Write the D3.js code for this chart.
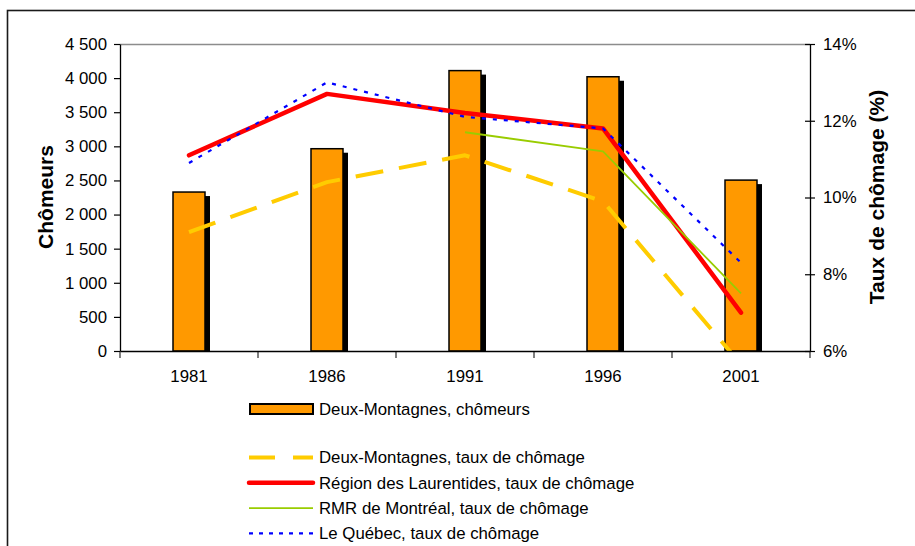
<!DOCTYPE html>
<html>
<head>
<meta charset="utf-8">
<script src="https://cdn.jsdelivr.net/npm/d3@7"></script>
<style>
  body { margin: 0; background: white; }
  svg { display: block; font-family: "Liberation Sans", Arial, sans-serif; }
</style>
</head>
<body>
<div id="chart"></div>
<script>
const years = ["1981", "1986", "1991", "1996", "2001"];
const chomeurs = [2330, 2965, 4110, 4020, 2505];
const tauxDeuxMontagnes = [9.1, 10.4, 11.1, 9.9, 5.65];
const tauxLaurentides = [11.1, 12.7, 12.2, 11.8, 7.0];
const tauxMontreal = [null, null, 11.7, 11.2, 7.5];
const tauxQuebec = [10.9, 13.0, 12.1, 11.8, 8.3];
const leftTicks = [0, 500, 1000, 1500, 2000, 2500, 3000, 3500, 4000, 4500];
const rightTicks = [6, 8, 10, 12, 14];

const lineSeries = [
  { name: "Deux-Montagnes, taux de chômage", values: tauxDeuxMontagnes, color: "#FFCC00", width: 4, dash: "28,16", legendDash: "26,18", cap: "butt" },
  { name: "Région des Laurentides, taux de chômage", values: tauxLaurentides, color: "#FF0000", width: 4.5, dash: null, legendDash: null, cap: "round" },
  { name: "RMR de Montréal, taux de chômage", values: tauxMontreal, color: "#99CC00", width: 1.8, dash: null, legendDash: null, cap: "butt" },
  { name: "Le Québec, taux de chômage", values: tauxQuebec, color: "#0000FF", width: 2.2, dash: "4,7", legendDash: "4,6", cap: "butt" },
];

const width = 915, height = 546;
const plot = { left: 120, right: 810, top: 44, bottom: 351 };
const fontSize = 16.8;

const svg = d3.select("#chart").append("svg")
  .attr("width", width)
  .attr("height", height);

// outer frame (only top and left visible in the reference)
svg.append("rect")
  .attr("x", 7.5).attr("y", 10.5)
  .attr("width", 1000).attr("height", 600)
  .attr("fill", "white")
  .attr("stroke", "#1a1a1a")
  .attr("stroke-width", 1.6);

const x = d3.scaleBand().domain(years).range([plot.left, plot.right]).padding(0);
const yLeft = d3.scaleLinear().domain([0, 4500]).range([plot.bottom, plot.top]);
const yRight = d3.scaleLinear().domain([6, 14]).range([plot.bottom, plot.top]);

const locale = d3.formatLocale({ decimal: ",", thousands: " ", grouping: [3], currency: ["", " $"] });
const fmtThousands = locale.format(",d");

svg.append("clipPath").attr("id", "plotClip")
  .append("rect")
  .attr("x", plot.left).attr("y", plot.top)
  .attr("width", plot.right - plot.left).attr("height", plot.bottom - plot.top);

// top border of the plot area
svg.append("line")
  .attr("x1", plot.left).attr("x2", plot.right)
  .attr("y1", plot.top + 0.5).attr("y2", plot.top + 0.5)
  .attr("stroke", "#8c8c8c").attr("stroke-width", 1.5);

// bars with their drop shadow
const barW = 32;
const bars = svg.append("g");
bars.selectAll(".shadow")
  .data(chomeurs)
  .enter().append("rect")
  .attr("class", "shadow")
  .attr("x", (d, i) => x(years[i]) + x.bandwidth() / 2 - barW / 2 + 5)
  .attr("y", d => yLeft(d) + 4)
  .attr("width", barW)
  .attr("height", d => plot.bottom - yLeft(d) - 4)
  .attr("fill", "black");
bars.selectAll(".bar")
  .data(chomeurs)
  .enter().append("rect")
  .attr("class", "bar")
  .attr("x", (d, i) => x(years[i]) + x.bandwidth() / 2 - barW / 2)
  .attr("y", d => yLeft(d))
  .attr("width", barW)
  .attr("height", d => plot.bottom - yLeft(d))
  .attr("fill", "#FF9900")
  .attr("stroke", "black")
  .attr("stroke-width", 1.5);

// rate lines (right axis)
const rateLine = d3.line()
  .defined(d => d != null)
  .x((d, i) => x(years[i]) + x.bandwidth() / 2)
  .y(d => yRight(d));

svg.append("g").attr("clip-path", "url(#plotClip)")
  .selectAll("path")
  .data(lineSeries)
  .enter().append("path")
  .attr("d", s => rateLine(s.values))
  .attr("fill", "none")
  .attr("stroke", s => s.color)
  .attr("stroke-width", s => s.width)
  .attr("stroke-dasharray", s => s.dash)
  .attr("stroke-linecap", s => s.cap)
  .attr("stroke-linejoin", "round");

// left axis
const gLeft = svg.append("g")
  .attr("transform", `translate(${plot.left},0)`)
  .call(d3.axisLeft(yLeft).tickValues(leftTicks).tickFormat(fmtThousands).tickSize(6).tickPadding(7).tickSizeOuter(0));

// right axis, ticks crossing the line
const gRight = svg.append("g")
  .attr("transform", `translate(${plot.right},0)`)
  .call(d3.axisRight(yRight).tickValues(rightTicks).tickFormat(d => d + "%").tickSize(5).tickPadding(8).tickSizeOuter(0));
gRight.selectAll(".tick line").attr("x1", -5);

// bottom axis: ticks between categories
const gBottom = svg.append("g")
  .attr("transform", `translate(0,${plot.bottom})`)
  .call(d3.axisBottom(x).tickSize(0).tickPadding(19).tickSizeOuter(0));
gBottom.selectAll(".tick text").attr("dy", "0.71em");
gBottom.selectAll(".boundary")
  .data(years.map(y => x(y)).concat([plot.right]))
  .enter().append("line")
  .attr("class", "boundary")
  .attr("x1", d => d).attr("x2", d => d)
  .attr("y1", 0).attr("y2", 7)
  .attr("stroke", "black");

[gLeft, gRight, gBottom].forEach(g => {
  g.select(".domain").attr("stroke", "black").attr("stroke-width", 1.3);
  g.selectAll(".tick line").attr("stroke", "black").attr("stroke-width", 1.2);
  g.selectAll("text")
    .attr("font-size", fontSize)
    .attr("font-family", "'Liberation Sans', Arial, sans-serif")
    .attr("fill", "black");
});

// axis titles
svg.append("text")
  .attr("transform", "translate(53,197) rotate(-90)")
  .attr("text-anchor", "middle")
  .attr("font-size", 21)
  .attr("font-weight", "bold")
  .text("Chômeurs");

svg.append("text")
  .attr("transform", "translate(884,197) rotate(-90)")
  .attr("text-anchor", "middle")
  .attr("font-size", 21)
  .attr("font-weight", "bold")
  .text("Taux de chômage (%)");

// legend
const legend = svg.append("g");
legend.append("rect")
  .attr("x", 250).attr("y", 404)
  .attr("width", 63).attr("height", 10)
  .attr("fill", "#FF9900")
  .attr("stroke", "black")
  .attr("stroke-width", 2);
legend.append("text")
  .attr("x", 319).attr("y", 409)
  .attr("dy", "0.35em")
  .attr("font-size", fontSize)
  .text("Deux-Montagnes, chômeurs");

const legendRows = legend.selectAll(".row")
  .data(lineSeries)
  .enter().append("g")
  .attr("class", "row")
  .attr("transform", (d, i) => `translate(0,${457.5 + i * 25.3})`);
legendRows.append("line")
  .attr("x1", 249).attr("x2", 313)
  .attr("y1", 0).attr("y2", 0)
  .attr("stroke", d => d.color)
  .attr("stroke-width", d => d.width)
  .attr("stroke-dasharray", d => d.legendDash)
  .attr("stroke-linecap", d => d.cap);
legendRows.append("text")
  .attr("x", 319).attr("y", 0)
  .attr("dy", "0.35em")
  .attr("font-size", fontSize)
  .text(d => d.name);
</script>
</body>
</html>
